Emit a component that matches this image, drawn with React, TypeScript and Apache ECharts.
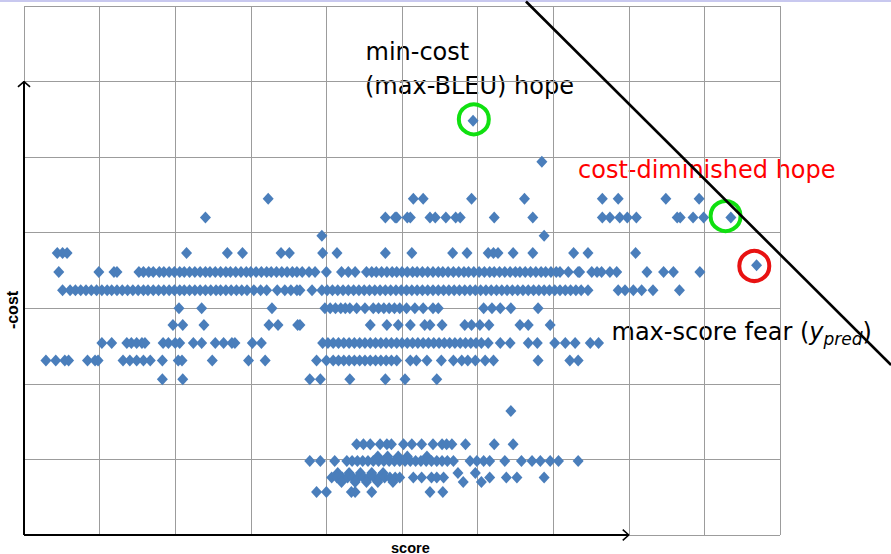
import React, { useEffect, useRef } from "react";
import * as echarts from "echarts";

// score (0-100) rows at each -cost level (0-70)
const r548 = [59.4];
const r494 = [68.5];
const r445 = [32.3, 51.5, 52.8, 59.2, 66.2, 76.5, 78.6, 84.9, 89.3];
const r420 = [24.0, 47.8, 49.1, 49.3, 50.7, 51.1, 53.7, 54.4, 55.8, 57.1, 57.7, 62.2, 67.3, 76.5, 77.5, 78.8, 79.8, 81.0, 86.4, 86.8, 88.5, 89.9, 93.5];
const r396 = [39.4, 68.8];
const r373 = [4.4, 5.1, 5.7, 21.5, 26.9, 28.9, 34.0, 35.1, 39.5, 41.4, 47.8, 51.3, 56.7, 58.6, 61.4, 62.1, 62.7, 64.7, 67.3, 72.7, 74.6, 80.9];
const r357 = [96.9];
const r348 = [4.6, 9.9, 11.9, 12.3,
  15.2, 15.8, 16.5, 17.1, 17.9, 18.5, 19.2, 19.9, 20.6, 21.2, 21.9, 22.6, 23.3, 24.0, 24.6, 25.3, 26.0, 26.7, 27.3, 28.0, 28.7, 29.4, 30.0, 30.7, 31.4, 32.1, 32.7, 33.4, 34.1, 34.8, 35.5, 36.1, 36.8, 37.7,
  38.5, 40.0, 42.0, 42.9, 43.8,
  45.3, 46.0, 46.6, 47.3, 48.0, 48.7, 49.3, 50.0, 50.7, 51.4, 52.0, 52.7, 53.4, 54.1, 54.8, 55.4, 56.1, 56.8, 57.5, 58.2, 58.8, 59.5, 60.2, 60.9, 61.6, 62.2, 62.9, 63.6, 64.3, 65.0, 65.6, 66.3, 67.0, 67.7, 68.4, 69.0, 69.7, 70.4, 70.9,
  72.0, 73.3, 73.5, 75.1, 75.8, 76.4, 77.5, 78.4, 82.4, 84.6, 85.9, 89.4];
const r324 = [5.1,
  6.1, 6.8, 7.5, 8.2, 8.9, 9.6, 10.3, 11.0, 11.6, 12.3, 13.0, 13.7, 14.4, 15.1, 15.8, 16.4, 17.1, 17.8, 18.5, 19.2, 19.9, 20.6, 21.2, 21.9, 22.6, 23.3, 24.0, 24.7, 25.4, 26.0, 26.7, 27.4, 28.1, 28.8, 29.5, 30.4,
  31.3, 32.1, 33.5, 34.5, 35.3, 36.1, 36.5, 38.1,
  39.4, 40.1, 40.8, 41.5, 42.2, 42.9, 43.6, 44.3, 45.0, 45.7, 46.4, 47.1, 47.8, 48.5, 49.2, 49.9, 50.6, 51.3, 52.0, 52.7, 53.4, 54.1, 54.8, 55.5, 56.2, 56.9, 57.6, 58.3, 59.0, 59.7, 60.4, 61.1, 61.8, 62.5, 63.2, 63.9, 64.6, 65.3, 66.0, 66.7, 67.4, 68.1, 68.8, 69.5, 70.2, 70.9, 71.6, 72.3, 73.0, 73.7, 74.6,
  78.6, 79.5, 80.6, 81.7, 83.2, 86.7];
const r300 = [20.5, 23.5, 32.8,
  39.8, 40.5, 41.2, 41.9, 42.5, 43.1, 44.0, 45.1, 46.2, 46.9, 47.6, 48.3, 49.0, 49.7, 50.6, 51.7, 52.8, 54.1, 54.8,
  60.8, 61.9, 63.0, 64.4, 68.0];
const r278 = [19.7, 21.0, 23.8, 32.4, 33.6, 36.2, 36.5, 45.8, 48.0, 49.5, 51.1, 53.0, 53.7, 55.3, 58.3, 59.2, 60.3, 61.5, 65.6, 66.7, 69.6];
const r254 = [10.3, 11.6, 13.6, 14.2, 14.9, 15.6, 16.0, 18.4, 19.1, 20.0, 20.6, 22.4, 23.5, 25.3, 26.4, 27.5, 27.9, 30.2, 31.4,
  39.5, 40.2, 40.9, 41.6, 42.3, 43.0, 43.7, 44.4, 45.1, 45.8, 46.5, 47.2, 47.9, 48.6, 49.3, 50.0, 50.7, 51.4, 52.1, 52.8, 53.5, 54.2, 54.9, 55.6, 56.3, 57.0, 57.7, 58.4, 59.1, 59.8, 60.5, 61.4,
  63.0, 64.3, 66.7, 67.9, 70.2, 71.6, 72.9, 74.9, 76.0];
const r231 = [2.9, 4.2, 5.4, 5.9, 8.4, 9.4, 9.8, 13.1, 14.0, 14.9, 15.8, 16.7, 18.3, 20.4, 20.9, 24.9, 29.7, 31.9, 38.7, 40.0,
  40.9, 41.6, 42.3, 43.0, 43.7, 44.4, 45.1, 45.8, 46.5, 47.2, 47.9, 48.6, 49.3,
  51.1, 51.9, 53.3, 55.2, 56.8, 57.9, 58.7, 59.7, 61.0, 62.1, 68.0, 72.2, 73.3];
const r206 = [18.3, 21.0, 37.8, 39.2, 43.1, 47.8, 50.4, 54.6];
const r164 = [64.4];
const r120 = [44.0, 44.9, 45.8, 47.1, 48.0, 48.6, 50.2, 51.3, 52.6, 54.1, 55.3, 55.9, 56.6, 58.4, 62.2, 64.7];
const r104 = [46.8, 48.1, 49.5, 50.7, 53.3];
const r098 = [37.8, 39.2, 41.1,
  42.7, 43.4, 44.1, 44.8, 45.5, 46.2, 46.9, 47.6, 48.3, 49.0, 49.7, 50.4, 51.1, 51.8, 52.5, 53.2, 53.9, 54.6, 55.3, 56.0, 56.8,
  59.0, 59.9, 60.8, 61.6, 63.6, 65.8, 67.2, 68.3, 69.6, 70.7, 73.3];
const r082 = [41.5, 43.0, 44.5, 46.0, 47.5, 57.4, 59.7];
const r076 = [40.7, 41.4, 42.1, 42.8, 43.5, 44.2, 44.9, 45.6, 46.3, 47.0, 47.7, 48.4, 49.1, 49.7,
  51.5, 52.6, 53.9, 54.6, 55.5, 61.6, 63.8, 65.2, 68.8];
const r070 = [42.0, 43.8, 45.3, 46.8, 48.8, 58.1, 60.5];
const r057 = [38.7, 40.0, 43.3, 43.8, 46.0, 53.7, 55.4];

const costLevels = [54.8, 49.4, 44.5, 42.0, 39.6, 37.3, 35.7, 34.8, 32.4, 30.0, 27.8, 25.4, 23.1, 20.6, 16.4, 12.0, 10.4, 9.8, 8.2, 7.6, 7.0, 5.7];
const scoreRows = [r548, r494, r445, r420, r396, r373, r357, r348, r324, r300, r278, r254, r231, r206, r164, r120, r104, r098, r082, r076, r070, r057];

// highlighted points (score, -cost)
const hopeCircle = [[59.5, 55.0]];
const diminishedCircle = [[92.8, 42.2]];
const fearCircle = [[96.6, 35.6]];
// separating line (score + -cost = const)
const lineEnds = [[66.4, 70.6], [114.7, 22.5]];
// axes arrows
const yShaft = [[0, 0], [0, 60]];
const yHead = [[-0.8, 59.3], [0, 60], [0.8, 59.3]];
const xShaft = [[0, 0], [80, 0]];
const xHead = [[79.2, 0.7], [80, 0], [79.2, -0.7]];

const FONT = "DejaVu Sans";

export default function App() {
  const ref = useRef<HTMLDivElement>(null);
  useEffect(() => {
    if (!ref.current) return;
    const chart = echarts.init(ref.current, undefined, { renderer: "svg" });
    const points: number[][] = [];
    scoreRows.forEach((row, i) => row.forEach((s) => points.push([s, costLevels[i]])));
    const lineSeries = (data: number[][], width: number) => ({
      type: "line",
      xAxisIndex: 1,
      yAxisIndex: 1,
      data,
      symbol: "none",
      clip: false,
      silent: true,
      lineStyle: { color: "#000", width },
      z: 5,
    });
    const circle = (data: number[][], color: string) => ({
      type: "scatter",
      data,
      symbol: "circle",
      symbolSize: 30,
      silent: true,
      itemStyle: { color: "rgba(0,0,0,0)", borderColor: color, borderWidth: 4, opacity: 1 },
      z: 4,
    });
    const hidden = { show: false };
    chart.setOption({
      animation: false,
      grid: [
        { left: 24, top: 6, width: 756, height: 529, containLabel: false },
        { left: 0, top: 0, width: 891, height: 554, containLabel: false },
      ],
      xAxis: [
        {
          type: "value", min: 0, max: 100, interval: 10, gridIndex: 0,
          axisLine: hidden, axisTick: hidden, axisLabel: hidden,
          splitLine: { show: true, lineStyle: { color: "#9c9c9c", width: 1 } },
        },
        {
          type: "value", min: -3.175, max: 114.683, gridIndex: 1,
          axisLine: hidden, axisTick: hidden, axisLabel: hidden, splitLine: hidden,
        },
      ],
      yAxis: [
        {
          type: "value", min: 0, max: 70, interval: 10, gridIndex: 0,
          axisLine: hidden, axisTick: hidden, axisLabel: hidden,
          splitLine: { show: true, lineStyle: { color: "#9c9c9c", width: 1 } },
        },
        {
          type: "value", min: -2.514, max: 70.795, gridIndex: 1,
          axisLine: hidden, axisTick: hidden, axisLabel: hidden, splitLine: hidden,
        },
      ],
      series: [
        {
          type: "scatter",
          data: points,
          symbol: "diamond",
          symbolSize: [11, 12],
          silent: true,
          itemStyle: { color: "#4a7ebb", opacity: 1 },
          z: 3,
        },
        circle(hopeCircle, "#10e010"),
        circle(diminishedCircle, "#10e010"),
        circle(fearCircle, "#e81212"),
        lineSeries(lineEnds, 2.6),
        lineSeries(yShaft, 2),
        lineSeries(yHead, 1.6),
        lineSeries(xShaft, 2),
        lineSeries(xHead, 1.6),
      ],
      graphic: [
        { type: "rect", shape: { x: 0, y: 0, width: 891, height: 2 }, style: { fill: "#c8c8ef" }, silent: true },
        {
          type: "text", x: 365.5, y: 51.7,
          style: { text: "min-cost", font: `24px '${FONT}'`, fill: "#000", verticalAlign: "middle" },
        },
        {
          type: "text", x: 365, y: 86,
          style: { text: "(max-BLEU) hope", font: `24px '${FONT}'`, fill: "#000", verticalAlign: "middle" },
        },
        {
          type: "text", x: 578, y: 169.7,
          style: { text: "cost-diminished hope", font: `24px '${FONT}'`, fill: "#ff0000", verticalAlign: "middle" },
        },
        {
          type: "text", x: 611.5, y: 332.4,
          style: {
            text: "{n|max-score fear (}{i|y}{s|pred}{n|)}",
            verticalAlign: "middle",
            rich: {
              n: { fontFamily: FONT, fontSize: 24, lineHeight: 30, color: "#000" },
              i: { fontFamily: FONT, fontSize: 24, lineHeight: 30, fontStyle: "italic", color: "#000" },
              s: { fontFamily: FONT, fontSize: 17, lineHeight: 17, fontStyle: "italic", verticalAlign: "bottom", color: "#000" },
            },
          },
        },
        {
          type: "text", x: 410.4, y: 547.5,
          style: { text: "score", font: "bold 14.5px 'Liberation Sans'", fill: "#000", align: "center", verticalAlign: "middle" },
        },
        {
          type: "text", x: 12.5, y: 310, rotation: Math.PI / 2,
          style: { text: "-cost", font: "bold 16px 'Liberation Sans'", fill: "#000", align: "center", verticalAlign: "middle" },
        },
      ],
    });
    return () => chart.dispose();
  }, []);
  return (
    <div
      ref={ref}
      style={{ position: "absolute", left: 0, top: 0, width: 891, height: 554, background: "#fff" }}
    />
  );
}
